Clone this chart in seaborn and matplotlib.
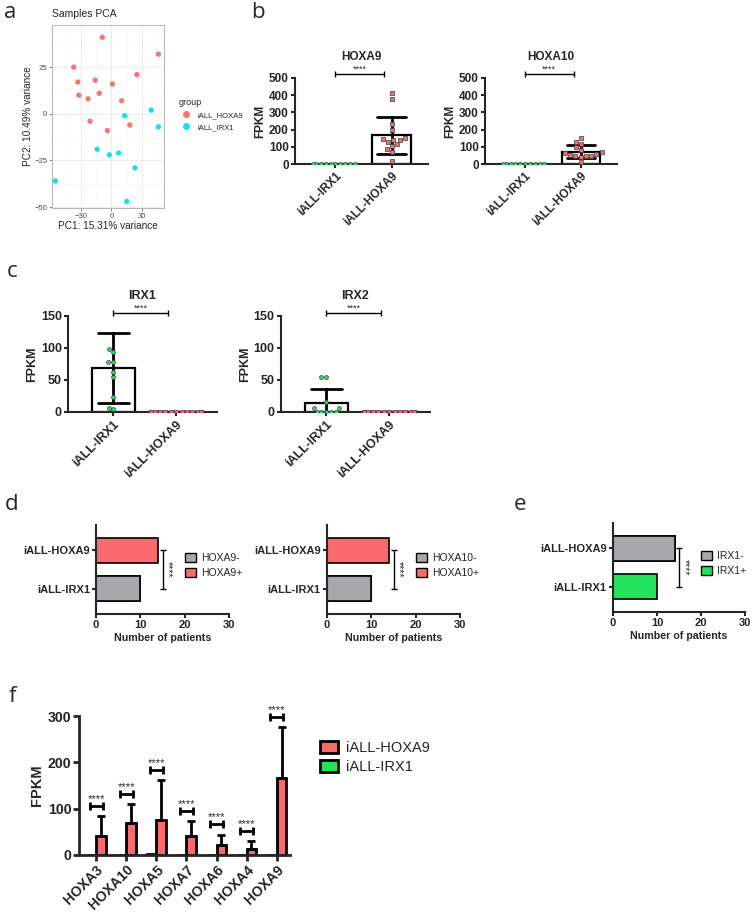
import numpy as np
import pandas as pd
import seaborn as sns
import matplotlib.pyplot as plt
from matplotlib.patches import Patch
from matplotlib.lines import Line2D

# ---------------- data ----------------
# a: PCA scores
pca_hoxa9_pc1 = [-9, 46, -37, 25, -33, -16, -12, 1, -32, -23, 10, -21, -4, 18]
pca_hoxa9_pc2 = [41, 32, 25, 21, 17, 18, 11, 16, 10, 8, 7, -4, -9, -6]
pca_irx1_pc1 = [39, 46, 13, -14, -2, 7, 23, -55, 15]
pca_irx1_pc2 = [2, -7, -1, -19, -22, -21, -29, -36, -47]

groups = ["iALL-IRX1", "iALL-HOXA9"]
# b: FPKM per patient
hoxa9_in_irx1 = [0] * 10
hoxa9_in_hoxa9 = [412, 376, 235, 200, 143, 139, 116, 129, 154, 139, 87, 106, 68, 19]
hoxa10_in_irx1 = [0] * 10
hoxa10_in_hoxa9 = [153, 129, 116, 98, 81, 68, 60, 48, 52, 48, 62, 46, 42, 12]
# c
irx1_in_irx1 = [98, 94, 78, 78, 54, 63, 24, 5, 6, 190]
irx1_in_hoxa9 = [0] * 14
irx2_in_irx1 = [54, 54, 15, 6, 6, 0.5, 0.5, 0.5, 0.5, 0.5]
irx2_in_hoxa9 = [0] * 14

# d / e: number of patients
count_groups = ["iALL-HOXA9", "iALL-IRX1"]
hoxa9_neg = [0, 10]
hoxa9_pos = [14, 0]
hoxa10_neg = [0, 10]
hoxa10_pos = [14, 0]
irx1_neg = [14, 0]
irx1_pos = [0, 10]

# f: mean and SD FPKM
f_genes = ["HOXA3", "HOXA10", "HOXA5", "HOXA7", "HOXA6", "HOXA4", "HOXA9"]
f_hoxa9_mean = [42, 70, 76, 41, 21, 12, 166]
f_hoxa9_sd = [42, 40, 86, 32, 23, 18, 110]
f_irx1_mean = [0.3, 0.2, 1.5, 0.3, 0.2, 0.1, 1.0]

RED = "#F96A6E"
GREEN = "#22E35B"
GRAY = "#A8A8AC"
PCA_RED = "#F8766D"
PCA_CYAN = "#14E0EC"

sns.set_style("ticks")
plt.rcParams["font.family"] = ["Liberation Sans", "DejaVu Sans"]

W, H = 753, 915
fig = plt.figure(figsize=(W / 100, H / 100), dpi=100)


def px_axes(l, t, r, b):
    return fig.add_axes([l / W, 1 - b / H, (r - l) / W, (b - t) / H])


def prism(ax, fs):
    sns.despine(ax=ax)
    for s in ("left", "bottom"):
        ax.spines[s].set_linewidth(1.5)
    ax.tick_params(width=1.5, length=3, labelsize=fs, pad=1.5)
    for t in ax.get_xticklabels() + ax.get_yticklabels():
        t.set_fontweight("bold")


def scatter_bar(ax, irx1_vals, hoxa9_vals, ymax, step, title, fs, title_y, br_y):
    df = pd.DataFrame({"group": ["iALL-IRX1"] * len(irx1_vals) + ["iALL-HOXA9"] * len(hoxa9_vals),
                       "FPKM": irx1_vals + hoxa9_vals})
    sns.barplot(data=df, x="group", y="FPKM", order=groups, errorbar="sd", capsize=0.5,
                width=0.68, color="white", edgecolor="black", linewidth=1.6, saturation=1,
                err_kws={"color": "black", "linewidth": 2}, ax=ax)
    sns.swarmplot(x=["iALL-IRX1"] * len(irx1_vals), y=irx1_vals, order=groups, ax=ax,
                  color=GREEN, marker="o", size=2.8, edgecolor="0.25", linewidth=0.5)
    sns.swarmplot(x=["iALL-HOXA9"] * len(hoxa9_vals), y=hoxa9_vals, order=groups, ax=ax,
                  color=RED, marker="s", size=3.2, edgecolor="0.25", linewidth=0.5)
    ax.set_xlim(-0.72, 1.65)
    ax.set_ylim(0, ymax)
    ax.set_yticks(np.arange(0, ymax + 1, step))
    ax.set_xlabel("")
    ax.set_ylabel("FPKM", fontsize=fs, fontweight="bold", labelpad=2)
    prism(ax, fs)
    plt.setp(ax.get_xticklabels(), rotation=45, ha="right", rotation_mode="anchor")
    ax.text(0.5, title_y, title, transform=ax.transAxes, ha="center", va="center",
            fontsize=fs, fontweight="bold")
    ax.plot([0, 0.87], [br_y, br_y], color="black", lw=1, marker="|", ms=5, clip_on=False)
    ax.text(0.435, br_y, "****", ha="center", va="bottom", fontsize=6.5)


def count_bars(ax, neg, pos, neg_color, pos_color, labels, br_x):
    total = [n + p for n, p in zip(neg, pos)]
    sns.barplot(x=total, y=count_groups, order=count_groups, orient="h", color=pos_color,
                edgecolor="black", linewidth=1.2, width=0.67, saturation=1, ax=ax)
    sns.barplot(x=neg, y=count_groups, order=count_groups, orient="h", color=neg_color,
                edgecolor="black", linewidth=1.2, width=0.67, saturation=1, ax=ax)
    ax.set_xlim(0, 30)
    ax.set_xticks([0, 10, 20, 30])
    ax.set_ylim(1.67, -0.67)
    ax.set_xlabel("Number of patients", fontsize=7.7, fontweight="bold", labelpad=2)
    ax.set_ylabel("")
    prism(ax, 8)
    ax.plot([br_x, br_x], [0, 1], color="black", lw=1, marker="_", ms=5, clip_on=False)
    ax.text(br_x + 1.2, 0.5, "****", rotation=270, ha="center", va="center", fontsize=7.5)
    ax.legend(handles=[Patch(facecolor=neg_color, edgecolor="black", lw=1, label=labels[0]),
                       Patch(facecolor=pos_color, edgecolor="black", lw=1, label=labels[1])],
              loc="center left", bbox_to_anchor=(0.67, 0.545), frameon=False, fontsize=7.5,
              handlelength=1.0, handleheight=1.0, handletextpad=0.5, labelspacing=0.5,
              borderpad=0, borderaxespad=0)


# ---------------- a ----------------
ax = px_axes(52, 25, 164, 208)
pca = pd.DataFrame({"PC1": pca_hoxa9_pc1 + pca_irx1_pc1,
                    "PC2": pca_hoxa9_pc2 + pca_irx1_pc2,
                    "group": ["iALL_HOXA9"] * len(pca_hoxa9_pc1) + ["iALL_IRX1"] * len(pca_irx1_pc1)})
sns.scatterplot(data=pca, x="PC1", y="PC2", hue="group", palette=[PCA_RED, PCA_CYAN],
                s=15, edgecolor="none", legend=False, ax=ax)
ax.set_xlim(-58.3, 51.5)
ax.set_ylim(-50.5, 47.6)
ax.set_xticks([-30, 0, 30])
ax.set_yticks([-50, -25, 0, 25])
ax.set_xticks([-45, -15, 15, 45], minor=True)
ax.set_yticks([-37.5, -12.5, 12.5, 37.5], minor=True)
ax.grid(which="major", color="#EBEBEB", lw=0.7)
ax.grid(which="minor", color="#F4F4F4", lw=0.4)
ax.set_axisbelow(True)
ax.tick_params(which="major", length=2, width=0.5, color="#555555", labelsize=5.5,
               labelcolor="#4D4D4D", pad=1.5)
ax.tick_params(which="minor", length=0)
for s in ax.spines.values():
    s.set_color("#AAAAAA")
    s.set_linewidth(0.6)
ax.set_xlabel("PC1: 15.31% variance", fontsize=7.2, labelpad=1)
ax.set_ylabel("PC2: 10.49% variance", fontsize=7.2, labelpad=1)
ax.text(0, 1.035, "Samples PCA", transform=ax.transAxes, ha="left", va="bottom", fontsize=7.5)
ax.legend(handles=[Line2D([], [], ls="", marker="o", ms=4, color=PCA_RED, label="iALL_HOXA9"),
                   Line2D([], [], ls="", marker="o", ms=4, color=PCA_CYAN, label="iALL_IRX1")],
          title="group", loc="upper left", bbox_to_anchor=(1.13, 0.6), frameon=False,
          fontsize=5.5, title_fontsize=6.5, alignment="left", handletextpad=0.5,
          labelspacing=0.6, borderpad=0, borderaxespad=0)

# ---------------- b ----------------
ax = px_axes(295, 78, 428, 164)
scatter_bar(ax, hoxa9_in_irx1, hoxa9_in_hoxa9, 500, 100, "HOXA9", 8.5, 1.244, 523)
ax = px_axes(485, 78, 617, 164)
scatter_bar(ax, hoxa10_in_irx1, hoxa10_in_hoxa9, 500, 100, "HOXA10", 8.5, 1.244, 523)

# ---------------- c ----------------
ax = px_axes(68, 316, 217, 412)
scatter_bar(ax, irx1_in_irx1, irx1_in_hoxa9, 150, 50, "IRX1", 9, 1.208, 154.7)
ax = px_axes(281, 316, 430, 412)
scatter_bar(ax, irx2_in_irx1, irx2_in_hoxa9, 150, 50, "IRX2", 9, 1.208, 154.7)

# ---------------- d ----------------
ax = px_axes(96, 525, 229, 614)
count_bars(ax, hoxa9_neg, hoxa9_pos, GRAY, RED, ["HOXA9-", "HOXA9+"], 15)
ax = px_axes(327, 525, 460, 614)
count_bars(ax, hoxa10_neg, hoxa10_pos, GRAY, RED, ["HOXA10-", "HOXA10+"], 15)

# ---------------- e ----------------
ax = px_axes(613, 523, 745, 612)
count_bars(ax, irx1_neg, irx1_pos, GRAY, GREEN, ["IRX1-", "IRX1+"], 15)

# ---------------- f ----------------
ax = px_axes(79, 716, 290, 855)
fdf = pd.DataFrame({"gene": f_genes * 2,
                    "group": ["iALL-IRX1"] * len(f_genes) + ["iALL-HOXA9"] * len(f_genes),
                    "FPKM": f_irx1_mean + f_hoxa9_mean})
sns.barplot(data=fdf, x="gene", y="FPKM", hue="group", order=f_genes,
            hue_order=["iALL-IRX1", "iALL-HOXA9"], palette=[GREEN, RED], width=0.64,
            edgecolor="black", linewidth=2, saturation=1, errorbar=None, legend=False, ax=ax)
xs = [b.get_x() + b.get_width() / 2 for b in ax.containers[1]]
ax.errorbar(xs, f_hoxa9_mean, yerr=[np.zeros(len(xs)), f_hoxa9_sd], fmt="none",
            ecolor="black", elinewidth=2, capsize=3, capthick=2)
for i, (m, sd) in enumerate(zip(f_hoxa9_mean, f_hoxa9_sd)):
    y = m + sd + 22
    ax.plot([i - 0.22, i + 0.22], [y, y], color="black", lw=2, marker="|", ms=6, mew=2,
            clip_on=False)
    ax.text(i, y + 4, "****", ha="center", va="bottom", fontsize=8)
ax.set_xlim(-0.57, 6.44)
ax.set_ylim(0, 300)
ax.set_yticks([0, 100, 200, 300])
ax.set_xlabel("")
ax.set_ylabel("FPKM", fontsize=10.5, fontweight="bold", labelpad=3)
prism(ax, 10.2)
ax.spines["left"].set_linewidth(2)
ax.spines["bottom"].set_linewidth(2)
ax.tick_params(width=2, length=4)
plt.setp(ax.get_xticklabels(), rotation=45, ha="right", rotation_mode="anchor")
fig.legend(handles=[Patch(facecolor=RED, edgecolor="black", lw=2, label="iALL-HOXA9"),
                    Patch(facecolor=GREEN, edgecolor="black", lw=2, label="iALL-IRX1")],
           loc="upper left", bbox_to_anchor=(320 / W, 1 - 741 / H), frameon=False,
           fontsize=10.5, handlelength=1.2, handleheight=0.9, handletextpad=0.6,
           labelspacing=0.35, borderpad=0, borderaxespad=0)

# ---------------- panel letters ----------------
for letter, x, y in [("a", 10, 13), ("b", 258, 13), ("c", 12, 272), ("d", 12, 505),
                     ("e", 520, 505), ("f", 12, 697)]:
    fig.text(x / W, 1 - y / H, letter, fontsize=16, family="Open Sans", ha="center", va="center")

fig.savefig("out.png", dpi=100)
